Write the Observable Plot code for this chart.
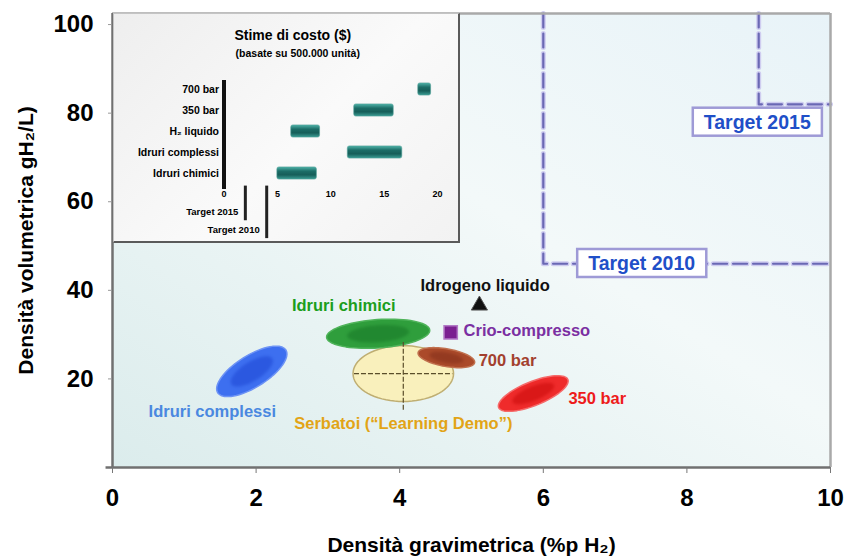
<!DOCTYPE html>
<html><head><meta charset="utf-8">
<script src="https://cdn.jsdelivr.net/npm/d3@7"></script>
<script src="https://cdn.jsdelivr.net/npm/@observablehq/plot@0.6"></script>
<style>
body{margin:0;background:#fff;font-family:"Liberation Sans",Arial,sans-serif;}
#wrap{position:relative;width:847px;height:559px;overflow:hidden;}
#main{position:absolute;left:0;top:0;}
#inset-bg{position:absolute;left:113px;top:13px;width:347px;height:230px;box-sizing:border-box;border-left:1px solid #c4c4c4;border-top:1px solid #c4c4c4;border-right:2px solid #5a5a5a;border-bottom:2px solid #5a5a5a;background:linear-gradient(135deg,#eeeeee,#fafafa 55%,#f2f2f2);}
#inset{position:absolute;left:113px;top:13px;}
</style></head><body>
<div id="wrap"><div id="main"></div><div id="inset-bg"></div><div id="inset"></div></div>
<script>
// ---------- main chart data ----------
const techNames = ["Idruri complessi", "Idruri chimici", "Serbatoi (“Learning Demo”)", "700 bar", "350 bar"];
const techGrav = [1.94, 3.70, 4.05, 4.65, 5.86];        // centre, %p H2
const techVol = [21.7, 30.2, 21.2, 24.8, 16.7];         // centre, g H2/L
const techGravSpread = [0.56, 0.72, 0.70, 0.40, 0.52];  // half extent along main axis
const techVolSpread = [3.6, 3.2, 6.3, 2.0, 2.7];        // half extent along minor axis
const techTilt = [-32, -4, 0, 10, -22];
const serbatoiGravRange = [3.37, 4.74];
const serbatoiVolRange = [12.9, 28.2];
const pointNames = ["Crio-compresso", "Idrogeno liquido"];
const pointGrav = [4.71, 5.11];
const pointVol = [30.5, 36.6];
const targetNames = ["Target 2010", "Target 2015"];
const targetGrav = [6, 9];
const targetVol = [46, 82];
const xTicks = [0, 2, 4, 6, 8, 10];
const yTicks = [20, 40, 60, 80, 100];

// ---------- inset data ----------
const costCategories = ["700 bar", "350 bar", "H₂ liquido", "Idruri complessi", "Idruri chimici"];
const costLow = [18.2, 12.2, 6.3, 11.6, 5.0];
const costHigh = [19.4, 15.9, 9.0, 16.7, 8.7];
const costTicks = [0, 5, 10, 15, 20];
const costTargetNames = ["Target 2015", "Target 2010"];
const costTargetValues = [2, 4];

// ---------- layout / style ----------
const W = 847, H = 559, ML = 112, MR = 17, MT = 13, MB = 92;
const xMax = 10, yMax = 102.5;
const kx = (W - ML - MR) / xMax, ky = (H - MT - MB) / yMax;
const techFill = ["#3d6ff0", "#2f9e3c", "#fbefb6", "#ab4a2a", "#ef2b2b"];
const techCore = ["#1f4ad6", "#197a28", null, "#86301a", "#cc0c0c"];
const techStroke = ["#6d93f5", "#4fb35a", "#bfae72", "#c0704e", "#f56a6a"];
const labelSpec = [
  {text: "Idruri complessi", x: 1.39, y: 12.6, anchor: "middle", color: "#4a88e0"},
  {text: "Idruri chimici", x: 3.22, y: 36.6, anchor: "middle", color: "#1c9e1c"},
  {text: "Serbatoi (“Learning Demo”)", x: 4.05, y: 9.9, anchor: "middle", color: "#e2a416"},
  {text: "700 bar", x: 5.10, y: 24.2, anchor: "start", color: "#a3402e"},
  {text: "350 bar", x: 6.35, y: 15.6, anchor: "start", color: "#ee1b1b"},
  {text: "Crio-compresso", x: 4.89, y: 30.9, anchor: "start", color: "#7b2fa2"},
  {text: "Idrogeno liquido", x: 5.19, y: 41.1, anchor: "middle", color: "#111"}
];
const targetLabelGrav = [7.37, 8.98];
const targetLabelVol = [46.0, 77.9];

function ellipse(i, scale) {
  const pts = [];
  const a = techGravSpread[i] * kx * scale, b = techVolSpread[i] * ky * scale;
  const th = techTilt[i] * Math.PI / 180;
  for (let k = 0; k < 72; k++) {
    const t = 2 * Math.PI * k / 72;
    const ex = a * Math.cos(t), ey = b * Math.sin(t);
    const rx = ex * Math.cos(th) - ey * Math.sin(th);
    const ry = ex * Math.sin(th) + ey * Math.cos(th);
    pts.push({x: techGrav[i] + rx / kx, y: techVol[i] - ry / ky});
  }
  return pts;
}

const drawOrder = [2, 1, 3, 0, 4];
const ellipseMarks = [];
for (const i of drawOrder) {
  ellipseMarks.push(Plot.line(ellipse(i, 1), {x: "x", y: "y", curve: "linear-closed",
    fill: techFill[i], stroke: techStroke[i], strokeWidth: 1.5, fillOpacity: i === 2 ? 0.9 : 1}));
  if (techCore[i]) {
    ellipseMarks.push(Plot.line(ellipse(i, 0.6), {x: "x", y: "y", curve: "linear-closed",
      fill: techCore[i], stroke: "none", fillOpacity: 0.6, imageFilter: "blur(1.5px)"}));
  }
}

const targetPaths = targetNames.flatMap((n, i) => [
  {n, x: targetGrav[i], y: yMax}, {n, x: targetGrav[i], y: targetVol[i]}, {n, x: xMax, y: targetVol[i]}
]);
const targetLabels = targetNames.map((n, i) => ({n, x: targetLabelGrav[i], y: targetLabelVol[i]}));
const points = pointNames.map((n, i) => ({n, x: pointGrav[i], y: pointVol[i]}));

const main = Plot.plot({
  width: W, height: H, marginLeft: ML, marginRight: MR, marginTop: MT, marginBottom: MB,
  x: {domain: [0, xMax]}, y: {domain: [0, yMax]},
  style: "background: transparent; overflow: visible; font-family: 'Liberation Sans', Arial, sans-serif; font-weight: bold;",
  marks: [
    Plot.frame({fill: "url(#bgGrad)", stroke: null}),
    Plot.line(targetPaths, {x: "x", y: "y", z: "n", stroke: "#cfcdf0", strokeWidth: 5, strokeDasharray: "14,6"}),
    Plot.line(targetPaths, {x: "x", y: "y", z: "n", stroke: "#6a68b4", strokeWidth: 2.2, strokeDasharray: "14,6"}),
    Plot.ruleY([yMax], {stroke: "#a9a9a9", strokeWidth: 2.5}),
    Plot.ruleX([xMax], {stroke: "#a9a9a9", strokeWidth: 2.5}),
    Plot.ruleX([0], {stroke: "#707070", strokeWidth: 2.5}),
    Plot.ruleY([0], {x1: -0.09, x2: xMax, stroke: "#707070", strokeWidth: 2.5}),
    Plot.axisX({ticks: xTicks, tickSize: 6, tickPadding: 15, fontSize: 24, stroke: "#777", fill: "#000", label: null}),
    Plot.axisY({ticks: yTicks, tickSize: 4, tickPadding: 15, fontSize: 24, stroke: "#999", fill: "#000", label: null}),
    ...ellipseMarks,
    Plot.ruleX([techGrav[2]], {y1: serbatoiVolRange[0], y2: serbatoiVolRange[1], stroke: "#5a4d2a", strokeWidth: 1.2, strokeDasharray: "5,2"}),
    Plot.ruleY([techVol[2]], {x1: serbatoiGravRange[0], x2: serbatoiGravRange[1], stroke: "#5a4d2a", strokeWidth: 1.2, strokeDasharray: "5,2"}),
    Plot.dot([points[0]], {x: "x", y: "y", symbol: "square", r: 7.5, fill: "#7a2090", stroke: "#b27ac6", strokeWidth: 1.5}),
    Plot.dot([points[1]], {x: "x", y: "y", symbol: "triangle", r: 6, fill: "#111", stroke: "#555", strokeWidth: 1}),
    Plot.text(labelSpec.filter(d => d.anchor === "middle"), {x: "x", y: "y", text: "text", textAnchor: "middle", fill: "color", fontSize: 16.5, fontWeight: "bold"}),
    Plot.text(labelSpec.filter(d => d.anchor === "start"), {x: "x", y: "y", text: "text", textAnchor: "start", fill: "color", fontSize: 16.5, fontWeight: "bold"}),
    Plot.text(targetLabels, {x: "x", y: "y", text: "n", fill: "#1f4fc8", fontSize: 19.5, fontWeight: "bold", className: "target-label"}),
    Plot.text(["Densità gravimetrica (%p H₂)"], {frameAnchor: "bottom", lineAnchor: "middle", textAnchor: "middle", dy: 78, fontSize: 21, fontWeight: "bold"}),
    Plot.text(["Densità volumetrica gH₂/L)"], {frameAnchor: "left", lineAnchor: "middle", textAnchor: "middle", dx: -86, rotate: -90, fontSize: 21, fontWeight: "bold"})
  ]
});
// background gradient
const defs = d3.select(main).insert("defs", ":first-child");
const g1 = defs.append("linearGradient").attr("id", "bgGrad").attr("x1", 0).attr("y1", 1).attr("x2", 1).attr("y2", 0);
g1.append("stop").attr("offset", "0%").attr("stop-color", "#dbecec");
g1.append("stop").attr("offset", "55%").attr("stop-color", "#f3f9f9");
g1.append("stop").attr("offset", "100%").attr("stop-color", "#e8f3f8");
document.getElementById("main").appendChild(main);

// boxes behind target labels
const tg = d3.select(main).select("g.target-label");
const boxes = d3.select(tg.node().parentNode).insert("g", () => tg.node());
if (tg.attr("transform")) boxes.attr("transform", tg.attr("transform"));
tg.selectAll("text").each(function () {
  const b = this.getBBox();
  const r = boxes.append("rect").attr("x", b.x - 11).attr("y", b.y - 3).attr("width", b.width + 22).attr("height", b.height + 6)
    .attr("fill", "#fff").attr("stroke", "#9e9ad6").attr("stroke-width", 2.5);
  const t = this.getAttribute("transform");
  if (t) r.attr("transform", t);
});

// ---------- inset ----------
const costRows = costCategories.map((name, i) => ({name, lo: costLow[i], hi: costHigh[i], row: costCategories.length - i}));
const costTargetRows = costTargetNames.map((name, i) => ({name, value: costTargetValues[i], row: i + 1}));
const inset = Plot.plot({
  width: 347, height: 230, marginLeft: 110.5, marginRight: 23, marginTop: 67, marginBottom: 54,
  x: {domain: [0, 20]}, y: {domain: [1, 5], range: [160, 76], axis: null},
  style: "background: transparent; overflow: visible; font-family: 'Liberation Sans', Arial, sans-serif; font-weight: bold;",
  marks: [
    Plot.text(["Stime di costo ($)"], {frameAnchor: "top", lineAnchor: "middle", dx: -38, dy: -45, fontSize: 14, fontWeight: "bold"}),
    Plot.text(["(basate su 500.000 unità)"], {frameAnchor: "top", lineAnchor: "middle", dx: -33, dy: -27, fontSize: 10.5, fontWeight: "bold"}),
    Plot.rect(costRows, {x1: "lo", x2: "hi", y1: d => d.row - 0.29, y2: d => d.row + 0.29, fill: "url(#barGrad)", stroke: "#4d9e96", strokeWidth: 0.6, rx: 2}),
    Plot.text(costRows, {x: 0, y: "row", text: "name", dx: -5, textAnchor: "end", fontSize: 10.5, fontWeight: "bold"}),
    Plot.ruleX([0], {stroke: "#111", strokeWidth: 4}),
    Plot.axisX({ticks: costTicks, tickSize: 0, tickPadding: 1, fontSize: 9, fontWeight: "bold", label: null}),
    Plot.ruleX(costTargetRows, {x: "value", y1: 0.4, y2: d => -0.4 - 0.85 * d.row, stroke: "#222", strokeWidth: 3}),
    Plot.text(costTargetRows, {x: "value", y: d => -0.85 * d.row, text: "name", dx: -7, textAnchor: "end", fontSize: 9.5, fontWeight: "bold"})
  ]
});
const defs2 = d3.select(inset).insert("defs", ":first-child");
const g2 = defs2.append("linearGradient").attr("id", "barGrad").attr("x1", 0).attr("y1", 0).attr("x2", 0).attr("y2", 1);
g2.append("stop").attr("offset", "0%").attr("stop-color", "#4fb3a9");
g2.append("stop").attr("offset", "35%").attr("stop-color", "#1c6d67");
g2.append("stop").attr("offset", "65%").attr("stop-color", "#165e59");
g2.append("stop").attr("offset", "100%").attr("stop-color", "#3b9d94");
document.getElementById("inset").appendChild(inset);
</script>
</body></html>
